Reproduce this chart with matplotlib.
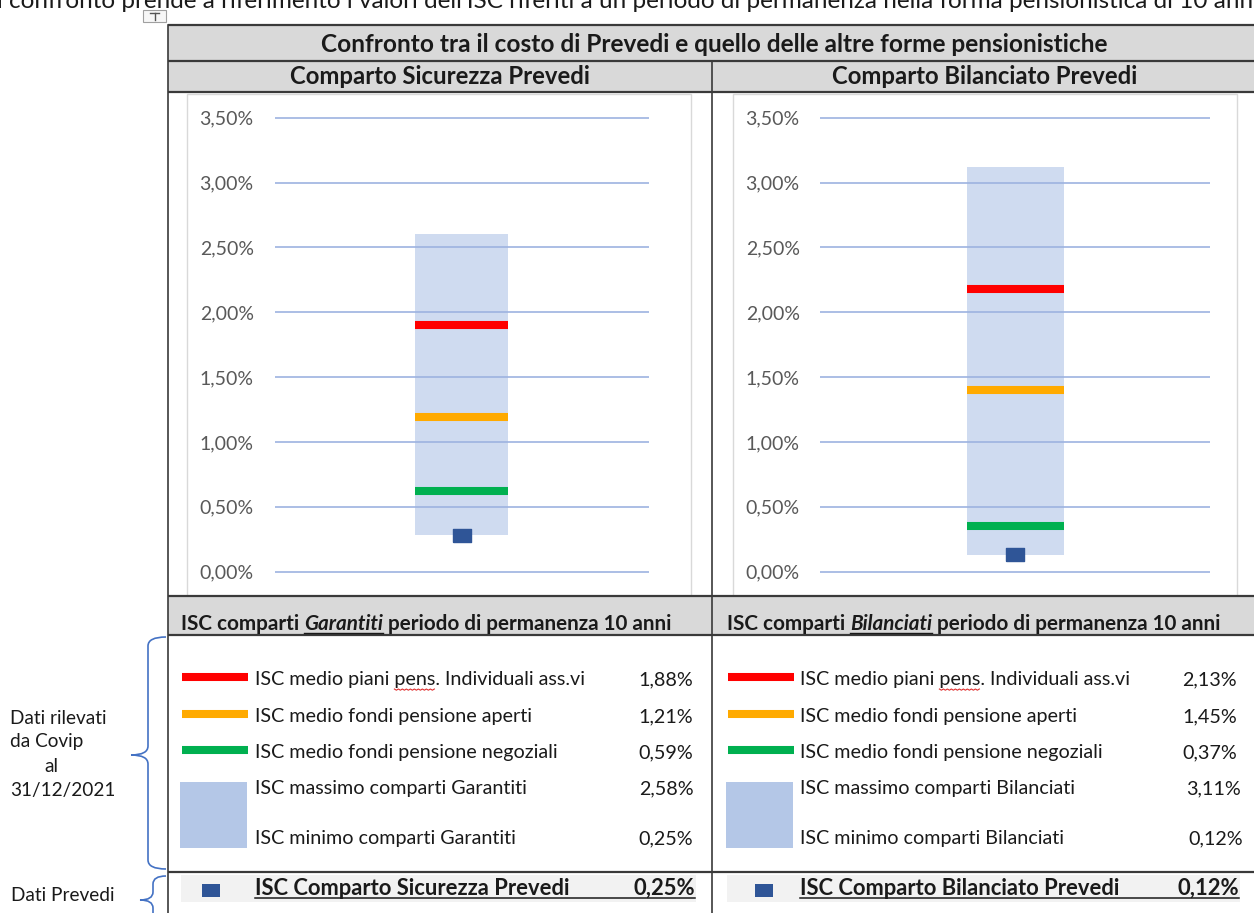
import matplotlib
matplotlib.use("Agg")
import matplotlib.pyplot as plt
import numpy as np
from matplotlib.path import Path
from matplotlib.patches import PathPatch, Rectangle

W, H = 1254, 913
plt.rcParams["font.family"] = ["Lato", "DejaVu Sans"]

# --- data -------------------------------------------------------------
comparti = ["Comparto Sicurezza Prevedi", "Comparto Bilanciato Prevedi"]
categorie = ["Garantiti", "Bilanciati"]
# values as drawn in the two charts (%)
isc_max = [2.60, 3.12]
isc_min = [0.28, 0.13]
isc_piani = [1.90, 2.18]
isc_aperti = [1.19, 1.40]
isc_negoziali = [0.62, 0.35]
isc_prevedi = [0.28, 0.14]
# values printed in the table under the charts (%)
tab_piani = [1.88, 2.13]
tab_aperti = [1.21, 1.45]
tab_negoziali = [0.59, 0.37]
tab_max = [2.58, 3.11]
tab_min = [0.25, 0.12]
tab_prevedi = [0.25, 0.12]
yticks = [0.0, 0.5, 1.0, 1.5, 2.0, 2.5, 3.0, 3.5]

RED, ORANGE, GREEN = "#FF0000", "#FFAA00", "#00B050"
BOX, LEGBOX, NAVY = "#CFDBF0", "#B4C7E7", "#2F5597"
GRID, TICK, HEAD, ROW = "#9DB3E0", "#595959", "#D9D9D9", "#F2F2F2"
INK, BORDER, BRACE = "#1A1A1A", "#3A3A3A", "#4472C4"
FS = 14.2       # body text
FS_NOTE = 13.7  # side notes


def pct(v):
    return f"{v:.2f}".replace(".", ",") + "%"


fig = plt.figure(figsize=(W / 100, H / 100), dpi=100)
ax0 = fig.add_axes([0, 0, 1, 1])
ax0.set_xlim(0, W); ax0.set_ylim(H, 0); ax0.axis("off")
R = fig.canvas.get_renderer()


def txt(x, y, s, size=FS, **kw):
    kw.setdefault("va", "baseline")
    kw.setdefault("color", INK)
    return ax0.text(x, y, s, fontsize=size, **kw)


def width(t):
    return t.get_window_extent(R).width


def measure(s, **kw):
    t = txt(0, 400, s, **kw)
    w = width(t)
    t.remove()
    return w


# --- document line above the table, cut at the top --------------------
top = txt(-3, 8, "l confronto prende a riferimento i valori dell'ISC riferiti a un periodo di "
          "permanenza nella forma pensionistica di 10 anni", size=15)
top.set_fontsize(15 * 1262 / width(top))
# table move handle
ax0.add_patch(Rectangle((143, 10), 23, 12, fc="#F7F7F7", ec="#A0A0A0", lw=0.8))
ax0.plot([150, 159], [13, 13], color="#555555", lw=1)
ax0.plot([154.5, 154.5], [13, 20], color="#555555", lw=1)

# --- table structure --------------------------------------------------
for y0, y1 in [(25, 61), (61, 92), (596, 635)]:
    ax0.add_patch(Rectangle((168, y0), W - 168, y1 - y0, fc=HEAD, ec="none"))
for y in [25, 61, 92, 596, 635, 872]:
    ax0.plot([168, W], [y, y], color=BORDER, lw=1.6, solid_capstyle="butt")
ax0.plot([168, 168], [25, H], color=BORDER, lw=1.2)
ax0.plot([712, 712], [61, H], color=BORDER, lw=1.2)

txt(714, 52, "Confronto tra il costo di Prevedi e quello delle altre forme pensionistiche",
    size=17.6, fontweight="bold", ha="center")
txt(440, 84, comparti[0], size=17.2, fontweight="bold", ha="center")
txt(985, 84, comparti[1], size=17.2, fontweight="bold", ha="center")

# chart frames
for x0, x1 in [(186.5, 691), (733, 1237)]:
    ax0.add_patch(Rectangle((x0, 94), x1 - x0, 503, fc="white", ec=HEAD, lw=1))

# --- charts -------------------------------------------------------------
SQ = [(-1, -0.72), (1, -0.72), (1, 0.72), (-1, 0.72), (-1, -0.72)]
PXU = 129.7          # pixels per 1 %
Y0 = 571.7           # pixel row of 0 %
for i, (xa, xb) in enumerate([(274.5, 648.6), (820.5, 1210)]):
    lo, hi = -0.05, 3.55
    ax = fig.add_axes([xa / W, 1 - (Y0 - lo * PXU) / H, (xb - xa) / W, (hi - lo) * PXU / H])
    ax.set_facecolor("none")
    ax.set_xlim(0, 1); ax.set_ylim(lo, hi)
    ax.bar(0.5, isc_max[i] - isc_min[i], bottom=isc_min[i], width=0.25, color=BOX, zorder=1)
    for v, c in zip([isc_piani[i], isc_aperti[i], isc_negoziali[i]], [RED, ORANGE, GREEN]):
        ax.hlines(v, 0.375, 0.625, color=c, lw=5.8, zorder=3)
    ax.plot([0.5], [isc_prevedi[i]], ls="none", marker=SQ, ms=13, color=NAVY, zorder=4)
    ax.set_yticks(yticks)
    ax.set_yticklabels([pct(v) for v in yticks])
    ax.set_xticks([])
    ax.tick_params(axis="y", length=0, pad=15, labelsize=14, labelcolor=TICK)
    ax.set_axisbelow(False)
    ax.grid(True, axis="y", color=GRID, lw=1.2)
    for s in ax.spines.values():
        s.set_visible(False)

# --- legend table -------------------------------------------------------
FS_H = 14.9
for i, (xl, xt, xv) in enumerate([(181, 255, 693), (727, 800, 1237)]):
    x = xl
    t1 = txt(x, 630, "ISC comparti ", size=FS_H, fontweight="bold")
    w1 = width(t1)
    t2 = txt(x + w1, 630, categorie[i], size=FS_H, fontweight="bold", fontstyle="italic")
    w2 = width(t2)
    ax0.plot([x + w1, x + w1 + w2], [633.5, 633.5], color=INK, lw=1)
    txt(x + w1 + w2, 630, " periodo di permanenza 10 anni", size=FS_H, fontweight="bold")

    rows = [(685, RED, "ISC medio piani pens. Individuali ass.vi", tab_piani[i]),
            (722, ORANGE, "ISC medio fondi pensione aperti", tab_aperti[i]),
            (758, GREEN, "ISC medio fondi pensione negoziali", tab_negoziali[i])]
    for y, c, label, v in rows:
        ax0.plot([xl + 1, xl + 67], [y - 8, y - 8], color=c, lw=5.8, solid_capstyle="butt")
        txt(xt, y, label)
        txt(xv, y, pct(v), ha="right")
    # spell-check squiggle under "pens"
    sx = xt + measure("ISC medio piani ")
    zx = np.arange(sx, sx + measure("pens"), 2.0)
    ax0.plot(zx, 689 + 1.2 * (np.arange(len(zx)) % 2), color="#E03030", lw=0.8)

    ax0.add_patch(Rectangle((xl - 1, 782), 67, 66, fc=LEGBOX, ec="none"))
    txt(xt, 794, f"ISC massimo comparti {categorie[i]}")
    txt(xv + 1 + 3 * i, 794, pct(tab_max[i]), ha="right")
    txt(xt, 844, f"ISC minimo comparti {categorie[i]}")
    txt(xv + 6 * i, 844, pct(tab_min[i]), ha="right")

    # Prevedi row
    ax0.add_patch(Rectangle((xl, 875), xv + 3 - xl, 27, fc=ROW, ec="none"))
    sqx = 202 if i == 0 else 755
    ax0.add_patch(Rectangle((sqx, 884), 18, 13, fc=NAVY, ec="none"))
    txt(xt, 895, "ISC " + comparti[i], size=15.8, fontweight="bold")
    txt(xv + 2, 895, pct(tab_prevedi[i]), size=15.8, fontweight="bold", ha="right")
    ax0.plot([xt, xv + 2], [898.5, 898.5], color=INK, lw=1.1)

# --- side notes and braces ---------------------------------------------
txt(10, 724, "Dati rilevati", size=FS_NOTE)
txt(10, 747, "da Covip", size=FS_NOTE)
txt(51, 772, "al", size=FS_NOTE, ha="center")
txt(10, 796, "31/12/2021", size=FS_NOTE)
txt(11, 901, "Dati Prevedi", size=FS_NOTE)


def brace(xr, xv, xt, ytop, ymid, ybot, r=9):
    verts = [(xr, ytop), (xv, ytop), (xv, ytop + r), (xv, ymid - r), (xv, ymid), (xt, ymid),
             (xv, ymid), (xv, ymid + r), (xv, ybot - r), (xv, ybot), (xr, ybot)]
    codes = [Path.MOVETO, Path.CURVE3, Path.CURVE3, Path.LINETO, Path.CURVE3, Path.CURVE3,
             Path.CURVE3, Path.CURVE3, Path.LINETO, Path.CURVE3, Path.CURVE3]
    ax0.add_patch(PathPatch(Path(verts, codes), fc="none", ec=BRACE, lw=1.2))


brace(166, 148, 131, 637, 755, 869)
brace(166, 153, 140, 876, 900, 930, r=8)

fig.savefig("out.png", dpi=100)
